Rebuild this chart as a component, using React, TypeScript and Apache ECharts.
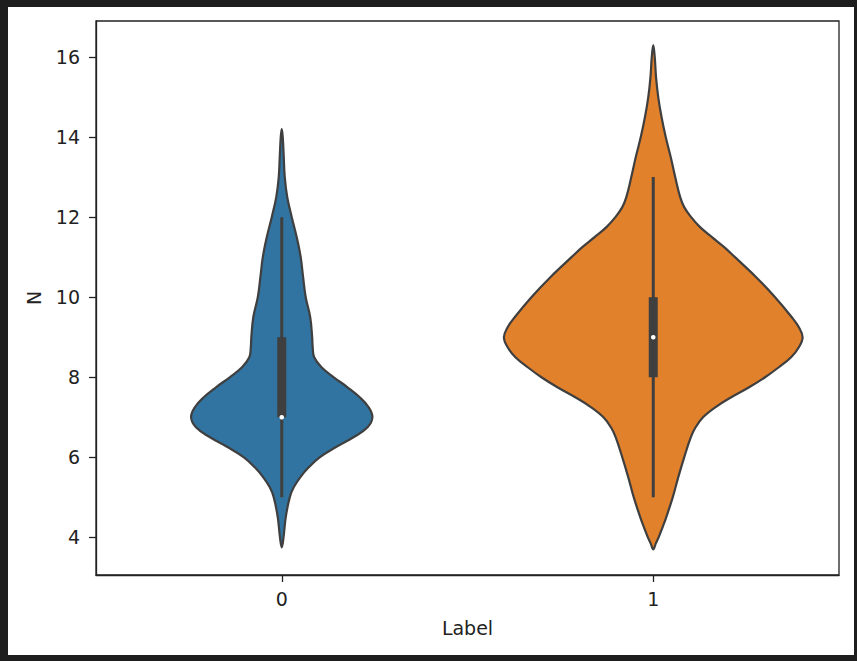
import React, { useEffect, useRef } from "react";
import * as echarts from "echarts";

const categories = ["0", "1"];
const yTicks = [4, 6, 8, 10, 12, 14, 16];

// violin outline for label 0: N values (top to bottom) and half-widths in category units
const violinY0 = [14.2, 14.0, 13.5, 13.0, 12.5, 12.0, 11.5, 11.0, 10.5, 10.0, 9.5, 9.0, 8.75, 8.5, 8.25, 8.0, 7.75, 7.5, 7.25, 7.0, 6.75, 6.5, 6.25, 6.0, 5.75, 5.5, 5.25, 5.0, 4.5, 4.0, 3.75];
const violinW0 = [0, 0.0027, 0.0054, 0.0081, 0.0148, 0.0269, 0.0403, 0.0510, 0.0575, 0.0645, 0.0766, 0.0819, 0.0833, 0.0873, 0.107, 0.14, 0.177, 0.21, 0.234, 0.244, 0.231, 0.193, 0.145, 0.102, 0.0725, 0.0497, 0.0322, 0.0215, 0.0107, 0.0048, 0];

// violin outline for label 1
const violinY1 = [16.3, 16.0, 15.5, 15.0, 14.5, 14.0, 13.5, 13.0, 12.5, 12.25, 12.0, 11.75, 11.5, 11.25, 11.0, 10.5, 10.0, 9.5, 9.25, 9.0, 8.75, 8.5, 8.25, 8.0, 7.75, 7.5, 7.25, 7.0, 6.75, 6.5, 6.0, 5.5, 5.0, 4.5, 4.25, 4.0, 3.85, 3.7];
const violinW1 = [0, 0.004, 0.0075, 0.0134, 0.0223, 0.0336, 0.047, 0.0591, 0.0725, 0.0833, 0.102, 0.126, 0.158, 0.191, 0.22, 0.277, 0.328, 0.373, 0.392, 0.402, 0.392, 0.371, 0.338, 0.301, 0.258, 0.21, 0.167, 0.134, 0.114, 0.101, 0.0833, 0.0672, 0.0524, 0.0349, 0.025, 0.0145, 0.007, 0];

// inner box statistics
const medians = [7, 9];
const q1s = [7, 8];
const q3s = [9, 10];
const whiskerLows = [5, 5];
const whiskerHighs = [12, 13];

const violinYs = [violinY0, violinY1];
const violinWs = [violinW0, violinW1];
const colors = ["#3274a1", "#e1812c"];
const edge = "#3f3f3f";
const textColor = "#222222";
const font = "DejaVu Sans";

export default function App() {
  const ref = useRef<HTMLDivElement>(null);
  useEffect(() => {
    if (!ref.current) return;
    const chart = echarts.init(ref.current, null, { renderer: "svg" });
    const data = categories.map((_, i) => [i, medians[i], q1s[i], q3s[i], whiskerLows[i], whiskerHighs[i]]);
    chart.setOption({
      animation: false,
      backgroundColor: "#ffffff",
      grid: {
        left: 88,
        top: 14,
        width: 743,
        height: 554,
        show: true,
        borderColor: textColor,
        borderWidth: 1.3,
        backgroundColor: "transparent",
      },
      xAxis: {
        type: "category",
        data: categories,
        name: "Label",
        nameLocation: "middle",
        nameGap: 43,
        nameTextStyle: { fontFamily: font, fontSize: 19, color: textColor },
        axisLine: { show: true, lineStyle: { color: textColor, width: 1.3 } },
        axisTick: { show: true, alignWithLabel: true, length: 7, lineStyle: { color: textColor, width: 1.3 } },
        axisLabel: { fontFamily: font, fontSize: 19, color: textColor, margin: 14 },
        splitLine: { show: false },
      },
      yAxis: {
        type: "value",
        min: 3.06,
        max: 16.9,
        name: "N",
        nameLocation: "middle",
        nameGap: 53,
        nameTextStyle: { fontFamily: font, fontSize: 19, color: textColor },
        axisLine: { show: true, lineStyle: { color: textColor, width: 1.3 } },
        axisTick: { show: true, length: 7, customValues: yTicks, lineStyle: { color: textColor, width: 1.3 } },
        axisLabel: { fontFamily: font, fontSize: 19, color: textColor, margin: 16, customValues: yTicks },
        splitLine: { show: false },
      },
      series: [
        {
          type: "custom",
          data,
          clip: true,
          renderItem: (params: any, api: any) => {
            const i = params.dataIndex;
            const cat = api.value(0);
            const band = api.size([1, 0])[0];
            const cx = api.coord([cat, 0])[0];
            const ys = violinYs[i];
            const ws = violinWs[i];
            const pts: number[][] = [];
            for (let k = 0; k < ys.length; k++) {
              const py = api.coord([cat, ys[k]])[1];
              pts.push([cx + ws[k] * band, py]);
            }
            for (let k = ys.length - 2; k >= 1; k--) {
              const py = api.coord([cat, ys[k]])[1];
              pts.push([cx - ws[k] * band, py]);
            }
            const yMed = api.coord([cat, api.value(1)])[1];
            const yQ1 = api.coord([cat, api.value(2)])[1];
            const yQ3 = api.coord([cat, api.value(3)])[1];
            const yLo = api.coord([cat, api.value(4)])[1];
            const yHi = api.coord([cat, api.value(5)])[1];
            return {
              type: "group",
              children: [
                {
                  type: "polygon",
                  shape: { points: pts, smooth: 0.4 },
                  style: { fill: colors[i], stroke: edge, lineWidth: 2.2 },
                },
                {
                  type: "line",
                  shape: { x1: cx, y1: yHi, x2: cx, y2: yLo },
                  style: { stroke: edge, lineWidth: 3 },
                },
                {
                  type: "rect",
                  shape: { x: cx - 4.5, y: yQ3, width: 9, height: yQ1 - yQ3 },
                  style: { fill: edge },
                },
                {
                  type: "circle",
                  shape: { cx, cy: yMed, r: 2.3 },
                  style: { fill: "#ffffff" },
                },
              ],
            };
          },
        },
      ],
    });
    return () => chart.dispose();
  }, []);
  return (
    <div style={{ position: "fixed", left: 0, top: 0, width: 857, height: 661, background: "#1e1e1e" }}>
      <div ref={ref} style={{ position: "absolute", left: 8, top: 7, width: 846, height: 648 }} />
    </div>
  );
}
